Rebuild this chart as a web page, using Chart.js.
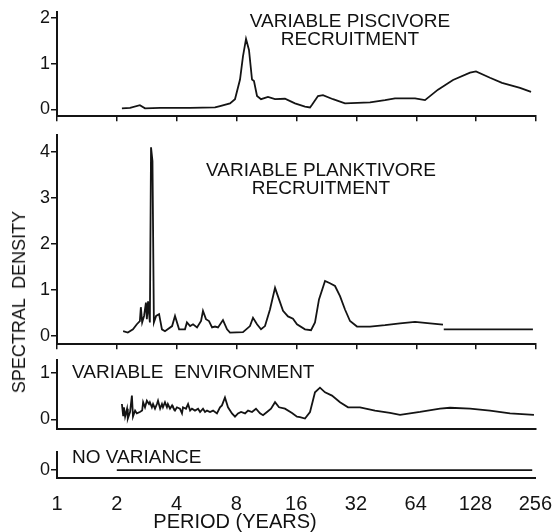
<!DOCTYPE html>
<html lang="en">
<head>
<meta charset="UTF-8">
<title>Spectral density vs period</title>
<script src="https://cdn.jsdelivr.net/npm/chart.js"></script>
<style>
  body { margin: 0; background: #fff; }
  #wrap { position: relative; width: 552px; height: 532px; font-family: 'Liberation Sans', Arial, sans-serif; color: #111; }
  #wrap canvas { position: absolute; left: 0; }
  .lbl { position: absolute; font-size: 19px; line-height: 18px; white-space: pre; }
</style>
</head>
<body>
<div id="wrap">
  <canvas id="c1" width="552" height="128" style="top:0"></canvas>
  <canvas id="c2" width="552" height="233" style="top:123px"></canvas>
  <canvas id="c3" width="552" height="93" style="top:348px"></canvas>
  <canvas id="c4" width="552" height="92" style="top:440px"></canvas>

  <div class="lbl" style="left:200px;width:300px;top:12px;text-align:center">VARIABLE PISCIVORE
RECRUITMENT</div>
  <div class="lbl" style="left:171px;width:300px;top:161px;text-align:center">VARIABLE PLANKTIVORE
RECRUITMENT</div>
  <div class="lbl" style="left:72px;top:363px">VARIABLE  ENVIRONMENT</div>
  <div class="lbl" style="left:72px;top:448px">NO VARIANCE</div>
  <div class="lbl" style="left:19px;top:302px;font-size:18px;transform:translate(-50%,-50%) rotate(-90deg)">SPECTRAL  DENSITY</div>
  <div class="lbl" style="left:235px;top:521px;font-size:20px;transform:translate(-50%,-50%)">PERIOD (YEARS)</div>
</div>

<script>
// period (years) on the x axis, powers of two
const xTicks = [1, 2, 4, 8, 16, 32, 64, 128, 256];

// variable piscivore recruitment
const piscPeriod = [2.12, 2.33, 2.61, 2.77, 3.30, 4.67, 6.23, 6.60, 7.41, 7.85, 8.32, 8.61, 8.92, 9.23, 9.56, 9.78,
  10.13, 10.61, 11.50, 12.48, 14.00, 15.72, 17.65, 18.71, 19.15, 20.52, 21.74, 24.42, 28.05, 37.48, 44.57, 50.05,
  63.10, 70.82, 82.33, 97.95, 119.3, 127.8, 150.3, 172.7, 212.7, 241.7];
const piscDensity = [0.02, 0.03, 0.09, 0.02, 0.03, 0.03, 0.04, 0.07, 0.13, 0.22, 0.65, 1.16, 1.54, 1.30, 0.65, 0.62,
  0.29, 0.22, 0.27, 0.22, 0.23, 0.13, 0.06, 0.04, 0.10, 0.29, 0.31, 0.22, 0.13, 0.15, 0.20, 0.24,
  0.24, 0.20, 0.43, 0.64, 0.80, 0.83, 0.69, 0.58, 0.47, 0.38];

// variable planktivore recruitment
const plankPeriod = [2.15, 2.27, 2.41, 2.52, 2.61, 2.64, 2.68, 2.74, 2.80, 2.83, 2.87, 2.93, 2.97, 3.02, 3.07,
  3.15, 3.26, 3.37, 3.49, 3.79, 3.92, 4.11, 4.40, 4.50, 4.67, 4.83, 5.06, 5.30, 5.42, 5.61, 5.81, 6.02, 6.23,
  6.45, 6.83, 7.16, 7.41, 8.61, 9.34, 9.67, 10.13, 10.61, 11.11, 11.77, 12.48, 13.07, 13.69, 14.50, 15.36,
  16.09, 17.65, 18.93, 19.82, 20.76, 22.26, 23.58, 24.99, 26.48, 28.05, 29.73, 32.23, 37.48, 44.57, 53.04,
  63.10, 75.05, 87.23];
const plankDensity = [0.11, 0.08, 0.15, 0.26, 0.33, 0.63, 0.30, 0.44, 0.73, 0.37, 0.76, 0.30, 4.10, 3.80, 0.30,
  0.44, 0.48, 0.15, 0.11, 0.22, 0.44, 0.15, 0.15, 0.30, 0.22, 0.26, 0.19, 0.33, 0.55, 0.37, 0.33, 0.19, 0.21,
  0.19, 0.35, 0.15, 0.08, 0.09, 0.22, 0.40, 0.26, 0.15, 0.22, 0.58, 1.05, 0.80, 0.55, 0.43, 0.38,
  0.26, 0.15, 0.13, 0.30, 0.80, 1.20, 1.15, 1.09, 0.87, 0.58, 0.33, 0.21, 0.21, 0.24, 0.28,
  0.31, 0.28, 0.25];
const plankTailPeriod = [88, 247];
const plankTailDensity = [0.15, 0.15];

// variable environment
const envPeriod = [2.12, 2.15, 2.17, 2.20, 2.25, 2.27, 2.33, 2.38, 2.41, 2.47, 2.52, 2.61, 2.68, 2.71, 2.77, 2.83,
  2.90, 2.93, 3.00, 3.04, 3.11, 3.18, 3.22, 3.30, 3.37, 3.41, 3.49, 3.57, 3.61, 3.70, 3.79, 3.83, 3.92, 4.01,
  4.15, 4.25, 4.30, 4.45, 4.56, 4.67, 4.77, 4.94, 5.12, 5.24, 5.42, 5.55, 5.68, 5.88, 6.09, 6.37, 6.60, 6.75,
  6.99, 7.24, 7.58, 7.85, 8.13, 8.42, 8.82, 9.13, 9.56, 10.01, 10.49, 10.86, 11.37, 11.91, 12.48, 13.07, 14.00,
  15.19, 16.09, 16.66, 17.65, 18.71, 19.82, 21.00, 22.26, 24.13, 26.48, 29.05, 33.37, 39.70, 47.23, 53.04,
  66.84, 84.26, 94.61, 119.3, 150.3, 189.5, 250];
const envDensity = [0.33, 0.09, 0.26, 0.06, 0.23, 0.02, 0.16, 0.51, 0.06, 0.19, 0.13, 0.16, 0.19, 0.37, 0.26, 0.40,
  0.33, 0.37, 0.26, 0.33, 0.23, 0.33, 0.40, 0.23, 0.33, 0.26, 0.37, 0.26, 0.33, 0.23, 0.30, 0.26, 0.19, 0.26,
  0.23, 0.13, 0.26, 0.23, 0.33, 0.19, 0.23, 0.19, 0.23, 0.16, 0.23, 0.16, 0.19, 0.16, 0.19, 0.13, 0.26, 0.30,
  0.47, 0.26, 0.13, 0.06, 0.13, 0.16, 0.13, 0.19, 0.16, 0.23, 0.13, 0.09, 0.16, 0.23, 0.37, 0.26, 0.23,
  0.14, 0.06, 0.05, 0.02, 0.16, 0.58, 0.68, 0.58, 0.51, 0.37, 0.26, 0.26, 0.19, 0.14, 0.10,
  0.16, 0.23, 0.25, 0.23, 0.19, 0.13, 0.10];

// no variance
const noVarPeriod = [2, 247];
const noVarDensity = [0, 0];

const ink = '#141414';
const fontName = "'Liberation Sans', Arial, sans-serif";

function series(periods, values) {
  return {
    data: periods.map((p, i) => ({ x: p, y: values[i] })),
    borderColor: ink,
    borderWidth: 1.8,
    pointRadius: 0,
    tension: 0
  };
}

function panel(id, sets, yMin, yMax, yTicks, opts) {
  // bottom panel: invisible 14px tick marks make the gap above the labels
  const xGrid = opts.xLabels
    ? { drawOnChartArea: false, drawTicks: true, tickLength: 14, tickColor: 'rgba(0,0,0,0)', color: ink }
    : { drawOnChartArea: false, drawTicks: opts.xMarks, tickLength: 5, color: ink, lineWidth: 1.5 };
  return new Chart(document.getElementById(id), {
    type: 'line',
    data: { datasets: sets },
    options: {
      responsive: false,
      animation: false,
      devicePixelRatio: 1,
      layout: { padding: { left: 0, right: opts.padRight, top: 12, bottom: opts.padBottom } },
      plugins: { legend: { display: false }, tooltip: { enabled: false } },
      scales: {
        x: {
          type: 'logarithmic',
          min: 1,
          max: 256,
          afterBuildTicks: s => { s.ticks = xTicks.map(v => ({ value: v })); },
          // the layout caps the axis at half the panel height; force room for the labels
          afterFit: s => { if (opts.xLabels) s.height = 40; },
          grid: xGrid,
          border: { color: ink, width: 2 },
          ticks: {
            display: opts.xLabels,
            maxRotation: 0,
            padding: 0,
            color: ink,
            font: { family: fontName, size: 20 },
            callback: v => String(v)
          }
        },
        y: {
          min: yMin,
          max: yMax,
          afterBuildTicks: s => { s.ticks = yTicks.map(v => ({ value: v })); },
          afterFit: s => { s.width = 57; },
          grid: { drawOnChartArea: false, tickLength: 6, color: ink, lineWidth: 1.5 },
          border: { color: ink, width: 2 },
          ticks: {
            padding: 1,
            color: ink,
            font: { family: fontName, size: 18 },
            callback: v => String(v)
          }
        }
      }
    }
  });
}

panel('c1', [series(piscPeriod, piscDensity)], -0.152, 2.13, [0, 1, 2],
  { padBottom: 6, padRight: 16, xMarks: true, xLabels: false });
panel('c2', [series(plankPeriod, plankDensity), series(plankTailPeriod, plankTailDensity)], -0.173, 4.367, [0, 1, 2, 3, 4],
  { padBottom: 6, padRight: 16, xMarks: true, xLabels: false });
panel('c3', [series(envPeriod, envDensity)], -0.208, 1.271, [0, 1],
  { padBottom: 10, padRight: 16, xMarks: false, xLabels: false });
panel('c4', [series(noVarPeriod, noVarDensity)], -0.17, 0.39, [0],
  { padBottom: 14, padRight: 0, xMarks: false, xLabels: true });
</script>
</body>
</html>
